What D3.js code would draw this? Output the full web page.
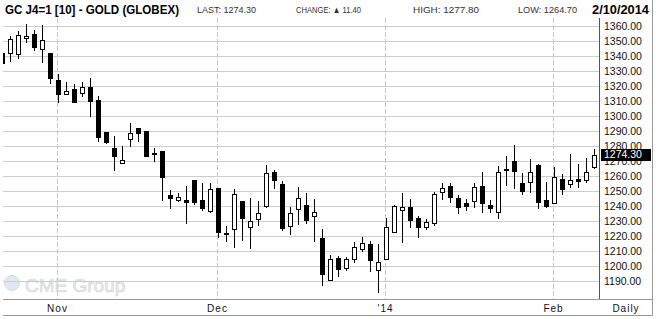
<!DOCTYPE html>
<html>
<head>
<meta charset="utf-8">
<script src="https://cdn.jsdelivr.net/npm/d3@7"></script>
<style>
  body { margin: 0; background: #fff; }
  svg { display: block; font-family: Arial, "Liberation Sans", sans-serif; }
</style>
</head>
<body>
<div id="chart"></div>
<script>
// trading days shown on the chart (m/d)
const dates = [
  "10/23","10/24","10/25","10/28","10/29","10/30","10/31",
  "11/1","11/4","11/5","11/6","11/7","11/8","11/11","11/12","11/13","11/14","11/15",
  "11/18","11/19","11/20","11/21","11/22","11/25","11/26","11/27","11/29",
  "12/2","12/3","12/4","12/5","12/6","12/9","12/10","12/11","12/12","12/13",
  "12/16","12/17","12/18","12/19","12/20","12/23","12/24","12/26","12/27","12/30","12/31",
  "1/2","1/3","1/6","1/7","1/8","1/9","1/10","1/13","1/14","1/15","1/16","1/17",
  "1/21","1/22","1/23","1/24","1/27","1/28","1/29","1/30","1/31",
  "2/3","2/4","2/5","2/6","2/7","2/10"
];
const opens = [
  1341.8,1341.1,1340.5,1351.1,1354.5,1343.8,1341.8,1323.8,1313.8,1317.8,
  1314.5,1319.1,1310.5,1289.1,1278.5,1267.8,1283.8,1291.8,1290.0,1275.3,
  1276.7,1247.3,1243.3,1244.0,1257.3,1244.0,1236.2,1252.0,1220.5,1223.8,
  1243.3,1225.1,1230.5,1239.5,1262.5,1254.7,1225.8,1237.3,1240.7,1232.5,
  1218.7,1189.8,1205.3,1197.8,1203.8,1210.5,1214.7,1196.7,1203.8,1221.8,
  1236.7,1239.1,1231.8,1225.1,1227.8,1248.7,1253.3,1245.1,1241.8,1242.7,
  1253.1,1240.5,1235.1,1264.7,1270.0,1255.1,1255.1,1267.3,1244.0,1241.1,
  1258.0,1253.8,1258.0,1256.5,1265.1
];
const highs = [
  1342.5,1353.3,1356.7,1361.3,1357.3,1360.7,1341.8,1327.8,1322.5,1321.1,
  1322.7,1325.1,1313.1,1289.1,1286.7,1280.0,1295.1,1291.8,1290.0,1278.7,
  1276.7,1250.7,1248.9,1253.5,1257.3,1255.5,1255.5,1252.0,1226.7,1251.3,
  1243.3,1245.3,1243.3,1267.3,1264.0,1256.7,1239.1,1252.7,1248.9,1244.7,
  1224.7,1207.1,1206.9,1206.2,1215.8,1219.5,1216.7,1214.7,1232.2,1240.9,
  1248.7,1244.7,1233.3,1231.3,1249.5,1255.3,1255.5,1247.1,1244.9,1255.3,
  1262.5,1244.0,1266.9,1273.3,1280.9,1262.0,1271.1,1268.2,1255.8,1266.2,
  1261.3,1274.9,1268.0,1272.2,1277.8
];
const lows = [
  1334.0,1336.2,1338.0,1348.9,1343.5,1335.5,1321.1,1308.5,1313.8,1308.9,
  1312.9,1299.5,1282.9,1281.1,1263.5,1267.8,1279.5,1282.7,1272.9,1269.5,
  1243.5,1237.8,1242.5,1227.8,1240.5,1236.9,1235.5,1218.5,1216.2,1212.2,
  1216.9,1211.5,1226.7,1238.5,1251.3,1223.3,1220.7,1227.5,1227.8,1216.2,
  1186.9,1189.8,1192.9,1196.9,1202.2,1209.5,1196.2,1182.2,1203.8,1221.8,
  1215.1,1225.1,1218.5,1223.8,1226.7,1243.8,1241.8,1234.5,1236.5,1238.5,
  1235.1,1235.5,1231.1,1253.1,1251.3,1247.5,1248.5,1237.8,1238.5,1241.1,
  1247.1,1251.8,1252.2,1255.5,1264.7
];
const closes = [
  1334.5,1351.1,1353.8,1353.1,1345.5,1350.5,1324.5,1313.8,1316.5,1308.9,
  1319.1,1309.5,1285.5,1282.2,1272.5,1270.5,1288.5,1288.3,1272.9,1274.2,
  1258.9,1244.5,1245.8,1241.8,1241.8,1238.2,1251.1,1222.2,1221.8,1248.0,
  1231.5,1230.2,1235.1,1261.8,1256.9,1224.7,1235.1,1245.1,1230.2,1235.8,
  1193.8,1204.5,1197.1,1204.5,1212.9,1215.1,1203.5,1202.9,1225.8,1239.8,
  1239.1,1229.8,1225.5,1229.5,1247.8,1251.8,1245.1,1238.5,1239.5,1252.5,
  1241.1,1238.2,1262.5,1263.5,1262.9,1249.5,1262.5,1241.8,1239.1,1259.5,
  1250.7,1257.1,1256.2,1262.9,1274.3
];
const yTicks = [1190,1200,1210,1220,1230,1240,1250,1260,1270,1280,1290,1300,1310,1320,1330,1340,1350,1360];
const monthDates = ["11/1","12/2","1/2","2/3"];
const monthLabels = ["Nov","Dec","'14","Feb"];
const lastPrice = 1274.30;

const width = 656, height = 319;
const plot = {left: 3, right: 599, top: 18, bottom: 299};

const svg = d3.select("#chart").append("svg")
  .attr("width", width)
  .attr("height", height);

const x = d3.scalePoint().domain(dates).range([2, 594]);
const y = d3.scaleLinear().domain([1190, 1360]).range([281, 26]);

const candles = dates.map((d, i) => ({
  date: d, open: opens[i], high: highs[i], low: lows[i], close: closes[i]
}));

//--------------------------------------------------
// header
//--------------------------------------------------
const head = svg.append("g");
head.append("text")
  .attr("x", 5).attr("y", 13.5)
  .attr("font-size", 12.5).attr("font-weight", "bold")
  .attr("textLength", 174).attr("lengthAdjust", "spacingAndGlyphs")
  .text("GC J4=1 [10] - GOLD (GLOBEX)");
const stats = [
  {t: "LAST: 1274.30", x: 197, w: 59},
  {t: "CHANGE: \u25B2 11.40", x: 296, w: 65},
  {t: "HIGH: 1277.80", x: 413, w: 66},
  {t: "LOW: 1264.70", x: 518, w: 59}
];
head.selectAll(".stat")
  .data(stats)
  .enter()
  .append("text")
  .attr("class", "stat")
  .attr("x", d => d.x).attr("y", 13)
  .attr("font-size", 9.5).attr("fill", "#333")
  .attr("textLength", d => d.w).attr("lengthAdjust", "spacingAndGlyphs")
  .text(d => d.t);
head.append("text")
  .attr("x", 592).attr("y", 13.5)
  .attr("font-size", 12.5).attr("font-weight", "bold")
  .attr("textLength", 57).attr("lengthAdjust", "spacingAndGlyphs")
  .text("2/10/2014");

//--------------------------------------------------
// watermark
//--------------------------------------------------
svg.append("circle")
  .attr("cx", 12).attr("cy", 283).attr("r", 7.5)
  .attr("fill", "#dfe9f4").attr("stroke", "#d0dcea");
svg.append("text")
  .attr("x", 25).attr("y", 292)
  .attr("font-size", 19)
  .attr("fill", "#ececec").attr("stroke", "#d8d8d8").attr("stroke-width", 0.7)
  .text("CME Group");

//--------------------------------------------------
// grid
//--------------------------------------------------
svg.append("g").selectAll("line")
  .data(yTicks)
  .enter()
  .append("line")
  .attr("x1", plot.left).attr("x2", plot.right)
  .attr("y1", d => Math.round(y(d)) + 0.5)
  .attr("y2", d => Math.round(y(d)) + 0.5)
  .attr("stroke", "#cbcfcb");

svg.append("g").selectAll("line")
  .data(monthDates)
  .enter()
  .append("line")
  .attr("x1", d => x(d) - 0.5).attr("x2", d => x(d) - 0.5)
  .attr("y1", plot.top).attr("y2", plot.bottom)
  .attr("stroke", "#c8c8c8")
  .attr("stroke-dasharray", "5,2");

//--------------------------------------------------
// candles
//--------------------------------------------------
svg.append("clipPath").attr("id", "clip")
  .append("rect")
  .attr("x", plot.left).attr("y", plot.top)
  .attr("width", plot.right - plot.left).attr("height", plot.bottom - plot.top);

const cg = svg.append("g").attr("clip-path", "url(#clip)")
  .selectAll("g")
  .data(candles)
  .enter()
  .append("g");

cg.append("line")
  .attr("x1", d => x(d.date) + 0.5).attr("x2", d => x(d.date) + 0.5)
  .attr("y1", d => Math.round(y(d.high)))
  .attr("y2", d => Math.round(y(d.low)))
  .attr("stroke", "#000");

cg.each(function(d) {
  let top = Math.round(y(Math.max(d.open, d.close)));
  let bot = Math.round(y(Math.min(d.open, d.close)));
  let cx = x(d.date);
  if (d.close >= d.open) {
    d3.select(this).append("rect")
      .attr("x", cx - 1.5).attr("y", top + 0.5)
      .attr("width", 4).attr("height", Math.max(1, bot - top - 1))
      .attr("fill", "#fff").attr("stroke", "#000");
  } else {
    d3.select(this).append("rect")
      .attr("x", cx - 2).attr("y", top)
      .attr("width", 5).attr("height", Math.max(2, bot - top))
      .attr("fill", "#000");
  }
});

//--------------------------------------------------
// axes and frame
//--------------------------------------------------
svg.append("g").selectAll("text")
  .data(yTicks)
  .enter()
  .append("text")
  .attr("x", 604)
  .attr("y", d => y(d))
  .attr("dy", "0.36em")
  .attr("font-size", 10.5)
  .attr("fill", "#111")
  .text(d => d.toFixed(2));

svg.append("rect")
  .attr("x", 601).attr("y", Math.round(y(lastPrice)) - 6)
  .attr("width", 50).attr("height", 12)
  .attr("fill", "#000");
svg.append("text")
  .attr("x", 604).attr("y", y(lastPrice))
  .attr("dy", "0.36em")
  .attr("font-size", 10.5)
  .attr("fill", "#fff")
  .text(lastPrice.toFixed(2));

svg.append("g").selectAll("text")
  .data(monthDates)
  .enter()
  .append("text")
  .attr("x", d => x(d) - 0.5)
  .attr("y", 312)
  .attr("text-anchor", "middle")
  .attr("font-size", 10)
  .attr("letter-spacing", 1)
  .attr("fill", "#111")
  .text((d, i) => monthLabels[i]);

svg.append("text")
  .attr("x", 626).attr("y", 312)
  .attr("text-anchor", "middle")
  .attr("font-size", 10)
  .attr("letter-spacing", 1)
  .attr("fill", "#111")
  .text("Daily");

const frame = svg.append("g").attr("stroke", "#999").attr("fill", "none");
frame.append("line").attr("x1", plot.right + 0.5).attr("x2", plot.right + 0.5)
  .attr("y1", plot.top).attr("y2", plot.bottom).attr("stroke", "#555");
frame.append("line").attr("x1", plot.left).attr("x2", 653)
  .attr("y1", plot.bottom + 0.5).attr("y2", plot.bottom + 0.5);
frame.append("line").attr("x1", plot.left).attr("x2", 653)
  .attr("y1", 315.5).attr("y2", 315.5);
frame.append("line").attr("x1", 652.5).attr("x2", 652.5)
  .attr("y1", 0).attr("y2", 316);
</script>
</body>
</html>
